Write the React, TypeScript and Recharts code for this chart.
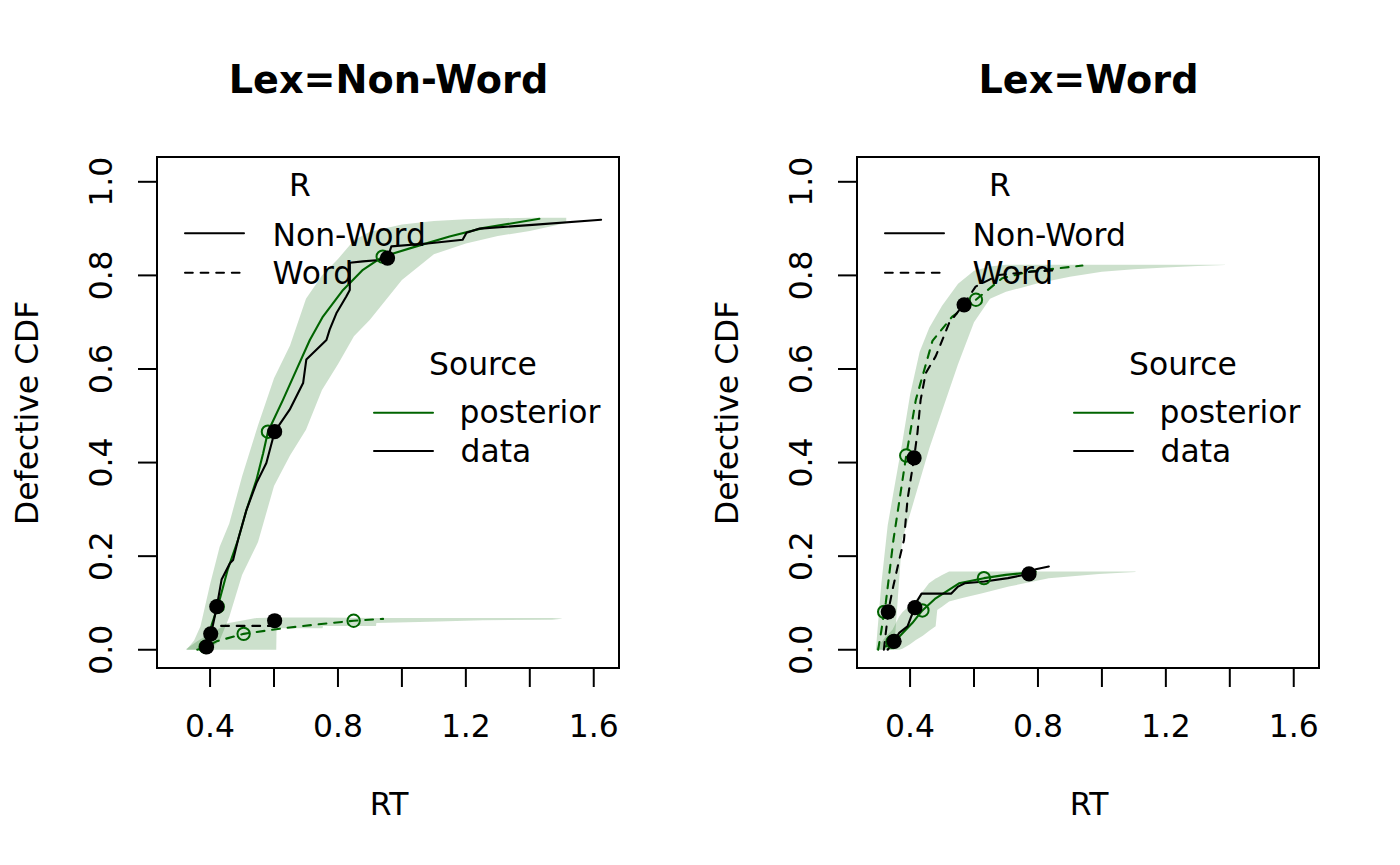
import React from 'react'
import { ComposedChart, Area, Line, Scatter, XAxis, YAxis, ReferenceArea } from 'recharts'

const FONT = '"DejaVu Sans", sans-serif'
const GREEN = '#006400'
const FS = 31.4

const titles = ['Lex=Non-Word', 'Lex=Word']
const legendR = ['Non-Word', 'Word']
const legendSource = ['posterior', 'data']
const xTicks = [0.4, 0.6, 0.8, 1.0, 1.2, 1.4, 1.6]
const xLabels = [0.4, 0.8, 1.2, 1.6]
const yTicks = [0, 0.2, 0.4, 0.6, 0.8, 1.0]
const xDomain = [0.234, 1.679]
const yDomain = [-0.039, 1.053]

// ---- Lex=Non-Word panel ----
const lnNwBandRt = [0.326, 0.35, 0.37, 0.40, 0.43, 0.46, 0.50, 0.55, 0.60, 0.65, 0.70, 0.75, 0.80, 0.85, 0.90, 1.00, 1.10, 1.20, 1.30, 1.40, 1.514]
const lnNwBandLo = [0, 0, 0, 0, 0.02, 0.07, 0.16, 0.23, 0.35, 0.415, 0.47, 0.555, 0.61, 0.67, 0.705, 0.79, 0.845, 0.868, 0.884, 0.895, 0.912]
const lnNwBandHi = [0, 0.02, 0.05, 0.14, 0.22, 0.27, 0.37, 0.48, 0.58, 0.65, 0.75, 0.80, 0.835, 0.875, 0.893, 0.909, 0.916, 0.92, 0.922, 0.923, 0.923]

const lnWBandRt = [0.326, 0.36, 0.40, 0.436, 0.45, 0.545, 0.607, 0.608, 0.752, 0.753, 0.919, 0.92, 1.087, 1.253, 1.47, 1.5]
const lnWBandLo = [0, 0, 0, 0, 0, 0, 0, 0.046, 0.046, 0.051, 0.051, 0.057, 0.06, 0.063, 0.064, 0.066]
const lnWBandHi = [0.002, 0.018, 0.035, 0.048, 0.056, 0.068, 0.069, 0.069, 0.069, 0.069, 0.068, 0.068, 0.068, 0.068, 0.068, 0.067]

const lnNwPostRt = [0.37, 0.387, 0.405, 0.424, 0.455, 0.4875, 0.514, 0.545, 0.566, 0.581, 0.628, 0.67, 0.712, 0.753, 0.816, 0.878, 0.94, 1.045, 1.149, 1.253, 1.43]
const lnNwPostP = [0, 0.011, 0.053, 0.092, 0.171, 0.235, 0.299, 0.363, 0.42, 0.466, 0.534, 0.598, 0.662, 0.712, 0.769, 0.812, 0.84, 0.862, 0.883, 0.901, 0.921]

const lnNwDataRt = [0.39, 0.405, 0.421, 0.436, 0.462, 0.472, 0.4875, 0.514, 0.545, 0.576, 0.602, 0.649, 0.691, 0.701, 0.764, 0.774, 0.795, 0.826, 0.837, 0.837, 0.878, 0.93, 0.955, 0.967, 1.08, 1.19, 1.202, 1.243, 1.408, 1.623]
const lnNwDataP = [0, 0.04, 0.092, 0.15, 0.185, 0.192, 0.235, 0.299, 0.356, 0.399, 0.466, 0.513, 0.57, 0.62, 0.662, 0.684, 0.719, 0.755, 0.769, 0.827, 0.83, 0.833, 0.837, 0.862, 0.868, 0.876, 0.891, 0.9, 0.908, 0.919]

const lnWPostRt = [0.36, 0.386, 0.42, 0.505, 0.628, 0.733, 0.849, 0.941]
const lnWPostP = [0, 0.006, 0.018, 0.034, 0.046, 0.054, 0.062, 0.066]
const lnWDataRt = [0.386, 0.389, 0.402, 0.42, 0.6, 0.602]
const lnWDataP = [0, 0.006, 0.034, 0.051, 0.051, 0.062]

const lnPostQRt = [0.424, 0.581, 0.94, 0.386, 0.505, 0.849]
const lnPostQP = [0.092, 0.466, 0.84, 0.006, 0.034, 0.062]
const lnDataQRt = [0.421, 0.602, 0.955, 0.389, 0.402, 0.602]
const lnDataQP = [0.092, 0.466, 0.837, 0.006, 0.034, 0.062]

// ---- Lex=Word panel ----
const lwWBandRt = [0.293, 0.31, 0.33, 0.35, 0.375, 0.40, 0.43, 0.46, 0.50, 0.55, 0.60, 0.65, 0.70, 0.80, 0.90, 1.0, 1.1, 1.2, 1.3, 1.385]
const lwWBandLo = [0, 0, 0, 0, 0.235, 0.29, 0.36, 0.43, 0.51, 0.61, 0.70, 0.75, 0.765, 0.783, 0.797, 0.808, 0.813, 0.817, 0.82, 0.822]
const lwWBandHi = [0, 0.14, 0.266, 0.344, 0.44, 0.545, 0.637, 0.688, 0.735, 0.782, 0.81, 0.819, 0.823, 0.823, 0.823, 0.823, 0.823, 0.823, 0.823, 0.823]

const lwNwBandRt = [0.293, 0.32, 0.345, 0.366, 0.376, 0.40, 0.418, 0.44, 0.459, 0.48, 0.485, 0.50, 0.522, 0.56, 0.626, 0.709, 0.834, 0.991, 1.105]
const lwNwBandLo = [0, 0, 0, 0, 0.002, 0.012, 0.021, 0.03, 0.04, 0.05, 0.085, 0.092, 0.103, 0.11, 0.121, 0.135, 0.153, 0.162, 0.166]
const lwNwBandHi = [0, 0.025, 0.043, 0.071, 0.08, 0.095, 0.107, 0.125, 0.142, 0.152, 0.154, 0.16, 0.167, 0.167, 0.167, 0.167, 0.167, 0.167, 0.167]

const lwWPostRt = [0.3, 0.31, 0.319, 0.324, 0.348, 0.388, 0.418, 0.47, 0.532, 0.606, 0.688, 0.772, 0.939]
const lwWPostP = [0, 0.04, 0.081, 0.1, 0.235, 0.415, 0.534, 0.66, 0.712, 0.748, 0.794, 0.808, 0.821]
const lwWDataRt = [0.318, 0.332, 0.345, 0.366, 0.381, 0.392, 0.4125, 0.423, 0.433, 0.449, 0.48, 0.501, 0.522, 0.569, 0.605, 0.678, 0.781, 0.855]
const lwWDataP = [0, 0.083, 0.128, 0.192, 0.235, 0.321, 0.41, 0.463, 0.534, 0.591, 0.627, 0.662, 0.698, 0.739, 0.776, 0.801, 0.808, 0.811]

const lwNwPostRt = [0.324, 0.345, 0.366, 0.407, 0.4385, 0.48, 0.553, 0.631, 0.699, 0.772, 0.793]
const lwNwPostP = [0.007, 0.017, 0.028, 0.057, 0.084, 0.11, 0.142, 0.153, 0.16, 0.165, 0.167]
const lwNwDataRt = [0.33, 0.35, 0.366, 0.392, 0.402, 0.415, 0.421, 0.436, 0.529, 0.55, 0.571, 0.633, 0.706, 0.772, 0.793, 0.834]
const lwNwDataP = [0, 0.018, 0.036, 0.05, 0.068, 0.09, 0.103, 0.12, 0.12, 0.135, 0.142, 0.146, 0.153, 0.162, 0.172, 0.178]

const lwPostQRt = [0.319, 0.388, 0.606, 0.345, 0.4385, 0.631]
const lwPostQP = [0.081, 0.415, 0.748, 0.017, 0.084, 0.153]
const lwDataQRt = [0.332, 0.4125, 0.569, 0.35, 0.415, 0.772]
const lwDataQP = [0.081, 0.41, 0.737, 0.018, 0.09, 0.162]

type Pt = { rt: number; p: number }
const pts = (rt: number[], p: number[]): Pt[] => rt.map((r, i) => ({ rt: r, p: p[i] }))
const band = (rt: number[], lo: number[], hi: number[]) =>
  rt.map((r, i) => ({ rt: r, range: [lo[i], hi[i]] }))

interface Curve {
  data: Pt[]
  color: string
  dashed: boolean
}

interface PanelProps {
  bands: { rt: number; range: number[] }[][]
  curves: Curve[]
  postDots: Pt[]
  dataDots: Pt[]
}

const XTick = (props: any) => {
  const { x, y, payload } = props
  const show = xLabels.some((v) => Math.abs(v - payload.value) < 1e-6)
  if (!show) return null
  return (
    <text x={x} y={y + 50} textAnchor="middle" fontFamily={FONT} fontSize={FS} fill="#000">
      {payload.value.toFixed(1)}
    </text>
  )
}

const YTick = (props: any) => {
  const { y, payload } = props
  return (
    <text
      transform={`translate(112,${y}) rotate(-90)`}
      textAnchor="middle"
      fontFamily={FONT}
      fontSize={FS}
      fill="#000"
    >
      {payload.value.toFixed(1)}
    </text>
  )
}

const Panel: React.FC<PanelProps> = ({ bands, curves, postDots, dataDots }) => (
  <ComposedChart width={700} height={865} margin={{ top: 157, right: 81, bottom: 137, left: 97 }}>
    <XAxis
      type="number"
      dataKey="rt"
      domain={xDomain}
      allowDataOverflow
      ticks={xTicks}
      interval={0}
      height={60}
      tickSize={19}
      tickMargin={0}
      axisLine={false}
      tickLine={{ stroke: '#000', strokeWidth: 2 }}
      tick={<XTick />}
    />
    <YAxis
      type="number"
      domain={yDomain}
      allowDataOverflow
      ticks={yTicks}
      interval={0}
      width={60}
      tickSize={19}
      tickMargin={0}
      axisLine={false}
      tickLine={{ stroke: '#000', strokeWidth: 2 }}
      tick={<YTick />}
    />
    {bands.map((b, i) => (
      <Area
        key={'band' + i}
        data={b}
        dataKey="range"
        type="linear"
        stroke="none"
        fill={GREEN}
        fillOpacity={0.2}
        isAnimationActive={false}
      />
    ))}
    {curves.map((c, i) => (
      <Line
        key={'curve' + i}
        data={c.data}
        dataKey="p"
        type="linear"
        stroke={c.color}
        strokeWidth={2.1}
        strokeDasharray={c.dashed ? '7.8 7.8' : undefined}
        strokeLinecap="round"
        strokeLinejoin="round"
        dot={false}
        activeDot={false}
        isAnimationActive={false}
      />
    ))}
    <Scatter
      data={postDots}
      dataKey="p"
      isAnimationActive={false}
      shape={(s: any) => <circle cx={s.cx} cy={s.cy} r={6.2} fill="none" stroke={GREEN} strokeWidth={2} />}
    />
    <Scatter
      data={dataDots}
      dataKey="p"
      isAnimationActive={false}
      shape={(s: any) => <circle cx={s.cx} cy={s.cy} r={7.6} fill="#000" />}
    />
    <ReferenceArea
      x1={xDomain[0]}
      x2={xDomain[1]}
      y1={yDomain[0]}
      y2={yDomain[1]}
      fill="none"
      fillOpacity={0}
      stroke="#000"
      strokeWidth={2}
      ifOverflow="visible"
    />
  </ComposedChart>
)

const Annotations: React.FC<{ dx: number; title: string }> = ({ dx, title }) => (
  <g transform={`translate(${dx},0)`} fontFamily={FONT} fill="#000">
    <text x={388.5} y={93} textAnchor="middle" fontSize={38.2} fontWeight="bold">
      {title}
    </text>
    <text x={389} y={815} textAnchor="middle" fontSize={FS}>
      RT
    </text>
    <text transform="translate(38,412.8) rotate(-90)" textAnchor="middle" fontSize={FS}>
      Defective CDF
    </text>
    <text x={300} y={196} textAnchor="middle" fontSize={FS}>
      R
    </text>
    <line x1={185} x2={244} y1={233.3} y2={233.3} stroke="#000" strokeWidth={2} strokeLinecap="round" />
    <text x={272.5} y={246} fontSize={FS}>
      {legendR[0]}
    </text>
    <line x1={185} x2={244} y1={272.7} y2={272.7} stroke="#000" strokeWidth={2} strokeDasharray="7.8 7.8" strokeLinecap="round" />
    <text x={272.5} y={284} fontSize={FS}>
      {legendR[1]}
    </text>
    <text x={483} y={375} textAnchor="middle" fontSize={FS}>
      Source
    </text>
    <line x1={374} x2={433} y1={412.7} y2={412.7} stroke={GREEN} strokeWidth={2} strokeLinecap="round" />
    <text x={459.5} y={423.3} fontSize={FS}>
      {legendSource[0]}
    </text>
    <line x1={374} x2={433} y1={451} y2={451} stroke="#000" strokeWidth={2} strokeLinecap="round" />
    <text x={460.5} y={461.7} fontSize={FS}>
      {legendSource[1]}
    </text>
  </g>
)

export default function App() {
  const left: PanelProps = {
    bands: [band(lnNwBandRt, lnNwBandLo, lnNwBandHi), band(lnWBandRt, lnWBandLo, lnWBandHi)],
    curves: [
      { data: pts(lnNwPostRt, lnNwPostP), color: GREEN, dashed: false },
      { data: pts(lnWPostRt, lnWPostP), color: GREEN, dashed: true },
      { data: pts(lnNwDataRt, lnNwDataP), color: '#000', dashed: false },
      { data: pts(lnWDataRt, lnWDataP), color: '#000', dashed: true },
    ],
    postDots: pts(lnPostQRt, lnPostQP),
    dataDots: pts(lnDataQRt, lnDataQP),
  }
  const right: PanelProps = {
    bands: [band(lwWBandRt, lwWBandLo, lwWBandHi), band(lwNwBandRt, lwNwBandLo, lwNwBandHi)],
    curves: [
      { data: pts(lwWPostRt, lwWPostP), color: GREEN, dashed: true },
      { data: pts(lwNwPostRt, lwNwPostP), color: GREEN, dashed: false },
      { data: pts(lwWDataRt, lwWDataP), color: '#000', dashed: true },
      { data: pts(lwNwDataRt, lwNwDataP), color: '#000', dashed: false },
    ],
    postDots: pts(lwPostQRt, lwPostQP),
    dataDots: pts(lwDataQRt, lwDataQP),
  }
  return (
    <div style={{ position: 'absolute', left: 0, top: 0, width: 1400, height: 865, background: '#fff' }}>
      <div style={{ display: 'flex' }}>
        <Panel {...left} />
        <Panel {...right} />
      </div>
      <svg width={1400} height={865} style={{ position: 'absolute', left: 0, top: 0, pointerEvents: 'none' }}>
        <Annotations dx={0} title={titles[0]} />
        <Annotations dx={700} title={titles[1]} />
      </svg>
    </div>
  )
}
